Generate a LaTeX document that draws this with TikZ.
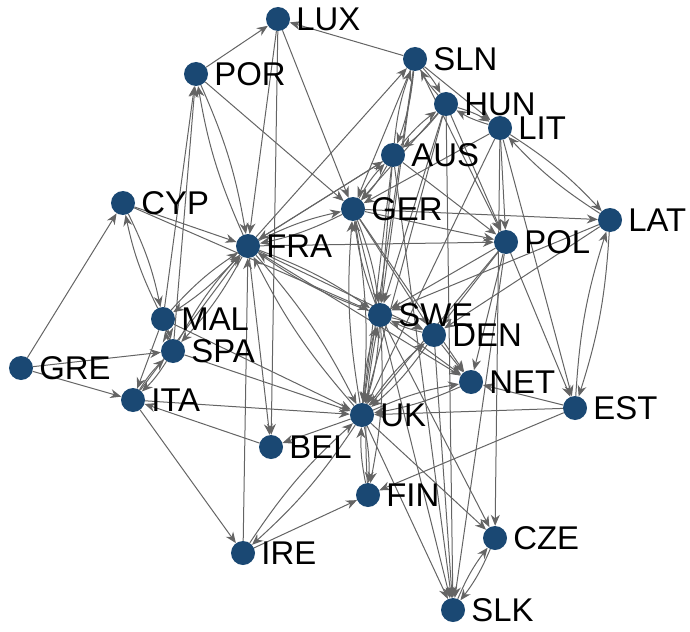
\documentclass[tikz,border=0pt]{standalone}
\usepackage{fontspec}
\setmainfont{Liberation Sans}
\usetikzlibrary{arrows.meta,backgrounds}
\definecolor{nodeblue}{RGB}{26,72,115}
\definecolor{edgegray}{RGB}{100,100,100}
\begin{document}
\begin{tikzpicture}[x=1bp,y=-1bp,
  country/.style={circle,fill=nodeblue,minimum size=24bp,inner sep=0pt,
    label={[font=\fontsize{33}{33}\selectfont,inner sep=0pt,label distance=6bp]right:#1}},
  link/.style={draw=edgegray,line width=1bp,-{Stealth[length=11bp,width=9bp]}},
  ]
\useasboundingbox (0,0) rectangle (690,632);
\node[country=LUX] (LUX) at (278,19) {};
\node[country=POR] (POR) at (196,74) {};
\node[country=SLN] (SLN) at (415,59) {};
\node[country=HUN] (HUN) at (446,104) {};
\node[country=LIT] (LIT) at (500,128) {};
\node[country=AUS] (AUS) at (393,155) {};
\node[country=CYP] (CYP) at (123,203) {};
\node[country=GER] (GER) at (353,209) {};
\node[country=LAT] (LAT) at (610,220) {};
\node[country=FRA] (FRA) at (248,246) {};
\node[country=POL] (POL) at (506,242) {};
\node[country=MAL] (MAL) at (163,319) {};
\node[country=SWE] (SWE) at (380,315) {};
\node[country=DEN] (DEN) at (434,335) {};
\node[country=SPA] (SPA) at (173,351) {};
\node[country=GRE] (GRE) at (21,368) {};
\node[country=NET] (NET) at (471,382) {};
\node[country=ITA] (ITA) at (133,400) {};
\node[country=UK]  (UK)  at (362,415) {};
\node[country=EST] (EST) at (575,408) {};
\node[country=BEL] (BEL) at (271,447) {};
\node[country=FIN] (FIN) at (368,495) {};
\node[country=CZE] (CZE) at (495,538) {};
\node[country=IRE] (IRE) at (243,553) {};
\node[country=SLK] (SLK) at (453,610) {};
\begin{pgfonlayer}{background}
\foreach \a/\b in {GRE/CYP, GRE/SPA, GRE/ITA,
  CYP/FRA, CYP/SWE, MAL/POR, SPA/POR, POR/GER, POR/LUX,
  MAL/ITA, MAL/UK, SPA/UK, ITA/UK, ITA/FRA, ITA/IRE, BEL/ITA,
  LUX/FRA, LUX/BEL, LUX/GER, SLN/LUX,
  IRE/FRA, FRA/BEL, FRA/POL, FRA/SLN, FRA/AUS, FRA/DEN, FRA/NET,
  GER/POL, GER/DEN, GER/NET, GER/SLK, GER/LAT,
  SLN/GER, SLN/SWE, SLN/UK, SLN/POL, SLN/LIT,
  HUN/GER, HUN/POL, HUN/SWE, HUN/UK, HUN/SLK,
  AUS/SWE, AUS/POL, AUS/UK, AUS/SLK, AUS/FRA,
  LIT/CZE, LIT/UK, LIT/POL, LIT/EST, LIT/GER,
  LAT/SWE, LAT/DEN,
  POL/EST, POL/SLK, POL/NET, POL/UK, POL/SWE, POL/DEN,
  SWE/NET, SWE/CZE, DEN/NET, EST/NET, EST/UK, EST/FIN,
  UK/CZE, UK/SLK, DEN/SLK, IRE/FIN, UK/BEL}
  \draw[link] (\a) -- (\b);
\foreach \a/\b in {CYP/MAL, POR/FRA, MAL/SPA, SPA/ITA, MAL/FRA, SPA/FRA,
  FRA/GER, FRA/SWE, UK/FRA, SLN/AUS, SLN/HUN, AUS/HUN, AUS/GER,
  GER/SWE, GER/UK, HUN/LIT, LIT/LAT, LAT/EST, SWE/UK, SWE/FIN,
  UK/FIN, SWE/DEN, UK/DEN, UK/NET, UK/IRE, CZE/SLK}
  {\draw[link] (\a) to[bend left=7] (\b);
   \draw[link] (\b) to[bend left=7] (\a);}
\end{pgfonlayer}
\end{tikzpicture}
\end{document}
